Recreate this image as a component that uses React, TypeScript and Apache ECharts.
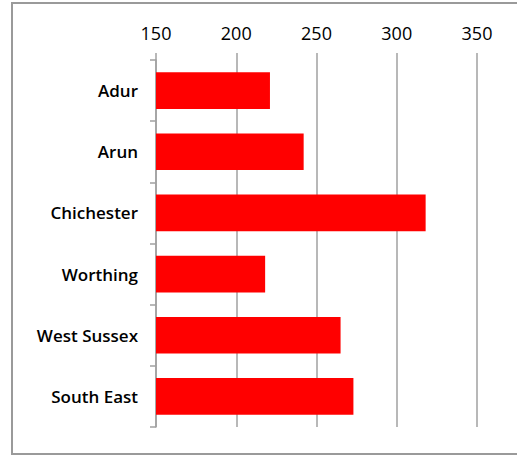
import React, { useEffect, useRef } from "react";
import * as echarts from "echarts";

const categories = ["Adur", "Arun", "Chichester", "Worthing", "West Sussex", "South East"];
const values = [221, 242, 318, 218, 265, 273];
const axisMin = 150;
const axisMax = 350;
const axisStep = 50;

export default function App() {
  const ref = useRef<HTMLDivElement>(null);
  useEffect(() => {
    document.body.style.margin = "0";
    const chart = echarts.init(ref.current!, null, { renderer: "svg" });
    const font = "'Open Sans', 'Noto Sans', sans-serif";
    chart.setOption({
      animation: false,
      backgroundColor: "#ffffff",
      grid: { left: 156, right: 40, top: 60, bottom: 29 },
      graphic: [
        {
          type: "rect",
          shape: { x: 12, y: 3, width: 620, height: 451 },
          style: { fill: "none", stroke: "#9a9a9a", lineWidth: 2 },
          silent: true,
        },
      ],
      xAxis: {
        type: "value",
        position: "top",
        min: axisMin,
        max: axisMax,
        interval: axisStep,
        axisLine: { show: false },
        axisTick: { show: true, length: 7, lineStyle: { color: "#a0a0a0", width: 1.5 } },
        splitLine: { show: true, lineStyle: { color: "#a0a0a0", width: 1.5 } },
        axisLabel: { color: "#000", fontSize: 18, fontFamily: font, fontWeight: 500, margin: 18 },
      },
      yAxis: {
        type: "category",
        inverse: true,
        data: categories,
        axisLine: { show: true, lineStyle: { color: "#a0a0a0", width: 1.5 } },
        axisTick: { show: true, length: 6, lineStyle: { color: "#a0a0a0", width: 1.5 } },
        axisLabel: { color: "#000", fontSize: 17, fontFamily: font, fontWeight: 600, margin: 18 },
      },
      series: [
        {
          type: "bar",
          data: values,
          barCategoryGap: "40%",
          itemStyle: { color: "#ff0000" },
        },
      ],
    });
    return () => chart.dispose();
  }, []);
  return <div ref={ref} style={{ width: 517, height: 456, position: "absolute", left: 0, top: 0 }} />;
}
